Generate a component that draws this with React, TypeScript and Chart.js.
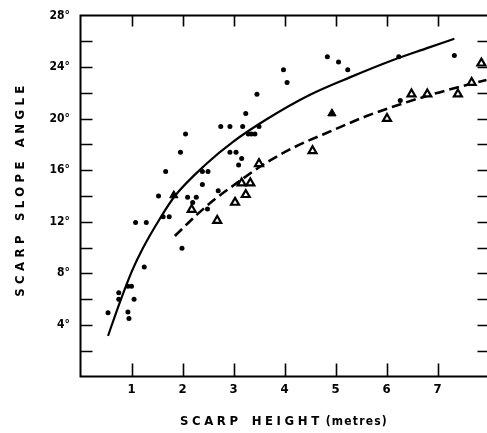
import React, { useEffect, useRef } from "react";
import { Chart, registerables } from "chart.js";

Chart.register(...registerables);

// Scarp data
const dotX = [0.54, 0.75, 0.75, 0.93, 1.0, 0.93, 0.95, 1.05, 1.08, 1.25, 1.29, 1.53, 1.62, 1.74, 1.67, 1.96, 2.06, 1.99, 2.1, 2.27, 2.2, 2.39, 2.39, 2.5, 2.49, 2.7, 2.75, 2.93, 2.93, 3.05, 3.1, 3.16, 3.18, 3.24, 3.29, 3.35, 3.42, 3.46, 3.5, 3.98, 4.05, 4.84, 5.06, 5.24, 6.24, 6.27, 7.33];
const dotY = [4.95, 6.5, 6.0, 7.0, 7.0, 5.0, 4.5, 6.0, 11.95, 8.5, 11.95, 14.0, 12.4, 12.4, 15.9, 17.4, 18.8, 9.95, 13.9, 13.9, 13.5, 14.9, 15.9, 15.9, 13.0, 14.4, 19.4, 19.4, 17.4, 17.4, 16.4, 16.9, 19.4, 20.4, 18.8, 18.8, 18.8, 21.9, 19.4, 23.8, 22.8, 24.8, 24.4, 23.8, 24.8, 21.4, 24.9];

const openTriX = [2.18, 2.68, 3.03, 3.24, 3.16, 3.33, 3.5, 4.55, 6.01, 6.49, 6.8, 7.4, 7.67, 7.86];
const openTriY = [12.95, 12.1, 13.5, 14.1, 15.0, 15.0, 16.5, 17.5, 20.0, 21.9, 21.9, 21.9, 22.8, 24.3];

const filledTriX = [1.83, 4.93];
const filledTriY = [14.05, 20.4];

const solidCurveX = [0.54, 0.757, 1.0, 1.23, 1.55, 1.85, 2.47, 2.99, 3.65, 4.5, 5.28, 6.13, 6.78, 7.33];
const solidCurveY = [3.15, 5.6, 8.1, 10.0, 12.2, 14.0, 16.5, 18.2, 19.95, 21.85, 23.2, 24.55, 25.45, 26.2];

const dashedCurveX = [1.85, 2.31, 2.65, 2.99, 3.65, 4.2, 4.95, 5.61, 6.26, 6.91, 7.18, 7.96];
const dashedCurveY = [10.9, 12.65, 13.8, 14.8, 16.6, 17.8, 19.1, 20.2, 21.1, 21.9, 22.2, 23.0];

const xTickValues = [1, 2, 3, 4, 5, 6, 7];
const yLabelValues = [4, 8, 12, 16, 20, 24, 28];
const yMarkValues = [2, 4, 6, 8, 10, 12, 14, 16, 18, 20, 22, 24, 26];

const xTitleWords = ["SCARP", "HEIGHT"];
const xTitleUnit = "(metres)";
const yTitleWords = ["SCARP", "SLOPE", "ANGLE"];

const FONT_FAMILY = "'Liberation Sans Narrow', 'DejaVu Sans Condensed', 'Liberation Sans', sans-serif";

const zip = (xs: number[], ys: number[]) => xs.map((x, i) => ({ x, y: ys[i] }));

function measureWords(ctx: CanvasRenderingContext2D, words: string[], spacing: number) {
  (ctx as any).letterSpacing = spacing + "px";
  return words.map((w) => ctx.measureText(w).width);
}

const framePlugin = {
  id: "frame",
  afterDraw(chart: any) {
    const { ctx, chartArea: a, scales } = chart;
    const xs = scales.x;
    const ys = scales.y;
    ctx.save();
    ctx.strokeStyle = "#000";
    ctx.lineWidth = 2;
    ctx.strokeRect(a.left, a.top, a.right - a.left, a.bottom - a.top);
    ctx.lineWidth = 1.6;
    ctx.beginPath();
    for (const v of xTickValues) {
      const px = Math.round(xs.getPixelForValue(v)) + 0.5;
      ctx.moveTo(px, a.top);
      ctx.lineTo(px, a.top + 11);
      ctx.moveTo(px, a.bottom);
      ctx.lineTo(px, a.bottom - 13);
    }
    for (const v of yMarkValues) {
      const py = Math.round(ys.getPixelForValue(v)) + 0.5;
      ctx.moveTo(a.left, py);
      ctx.lineTo(a.left + 12, py);
      ctx.moveTo(a.right, py);
      ctx.lineTo(a.right - 11, py);
    }
    ctx.stroke();

    // X axis title
    ctx.fillStyle = "#000";
    ctx.textBaseline = "middle";
    ctx.textAlign = "left";
    ctx.font = "bold 13px " + FONT_FAMILY;
    const xSpacing = 3.6;
    const xWordGap = 10;
    const xWidths = measureWords(ctx, xTitleWords, xSpacing);
    ctx.font = "bold 12px " + FONT_FAMILY;
    (ctx as any).letterSpacing = "1.2px";
    const unitW = ctx.measureText(xTitleUnit).width;
    const total = xWidths.reduce((s: number, w: number) => s + w, 0) + xWordGap * (xTitleWords.length - 1) + 3 + unitW;
    let cx = 284 - total / 2;
    const ty = 421.5;
    ctx.font = "bold 13px " + FONT_FAMILY;
    (ctx as any).letterSpacing = xSpacing + "px";
    xTitleWords.forEach((w, i) => {
      ctx.fillText(w, cx, ty);
      cx += xWidths[i] + xWordGap;
    });
    cx -= xWordGap - 3;
    ctx.font = "bold 12px " + FONT_FAMILY;
    (ctx as any).letterSpacing = "1.2px";
    ctx.fillText(xTitleUnit, cx, ty);

    // Y axis title (rotated)
    ctx.font = "bold 13px " + FONT_FAMILY;
    const ySpacing = 4.4;
    const yWordGap = 10;
    const yWidths = measureWords(ctx, yTitleWords, ySpacing);
    const yTotal = yWidths.reduce((s: number, w: number) => s + w, 0) + yWordGap * (yTitleWords.length - 1);
    ctx.save();
    ctx.translate(21, 189);
    ctx.rotate(-Math.PI / 2);
    (ctx as any).letterSpacing = ySpacing + "px";
    let yx = -yTotal / 2;
    yTitleWords.forEach((w, i) => {
      ctx.fillText(w, yx, 0);
      yx += yWidths[i] + yWordGap;
    });
    ctx.restore();
    (ctx as any).letterSpacing = "0px";
    ctx.restore();
  },
};

export default function App() {
  const canvasRef = useRef<HTMLCanvasElement | null>(null);

  useEffect(() => {
    if (!canvasRef.current) return;
    const tickFont = { family: FONT_FAMILY, size: 13, weight: "bold" as const };
    const chart = new Chart(canvasRef.current, {
      type: "scatter",
      data: {
        datasets: [
          {
            label: "dots",
            data: zip(dotX, dotY),
            pointStyle: "circle",
            pointRadius: 2.5,
            pointBackgroundColor: "#000",
            pointBorderWidth: 0,
            borderColor: "#000",
          },
          {
            label: "open triangles",
            data: zip(openTriX, openTriY),
            pointStyle: "triangle",
            pointRadius: 4.6,
            pointBackgroundColor: "#fff",
            pointBorderColor: "#000",
            pointBorderWidth: 2.2,
          },
          {
            label: "filled triangles",
            data: zip(filledTriX, filledTriY),
            pointStyle: "triangle",
            pointRadius: 4.8,
            pointBackgroundColor: "#000",
            pointBorderColor: "#000",
            pointBorderWidth: 1,
          },
          {
            label: "solid fit",
            data: zip(solidCurveX, solidCurveY),
            showLine: true,
            pointRadius: 0,
            borderColor: "#000",
            borderWidth: 2.2,
            cubicInterpolationMode: "monotone",
            fill: false,
          } as any,
          {
            label: "dashed fit",
            data: zip(dashedCurveX, dashedCurveY),
            showLine: true,
            pointRadius: 0,
            borderColor: "#000",
            borderWidth: 2.6,
            borderDash: [10, 5],
            cubicInterpolationMode: "monotone",
            fill: false,
          } as any,
        ],
      },
      options: {
        animation: false,
        responsive: false,
        devicePixelRatio: 1,
        layout: { autoPadding: false, padding: { left: 0, top: 15.5, right: 1.5, bottom: 0 } },
        plugins: {
          legend: { display: false },
          tooltip: { enabled: false },
        },
        scales: {
          x: {
            type: "linear",
            min: 0,
            max: 8,
            border: { display: false },
            grid: { display: false, drawTicks: false },
            afterBuildTicks: (s: any) => {
              s.ticks = xTickValues.map((v) => ({ value: v }));
            },
            afterFit: (s: any) => {
              s.height = 56.5;
              s.paddingLeft = 0;
              s.paddingRight = 0;
            },
            ticks: {
              color: "#000",
              font: tickFont,
              padding: 5,
              maxRotation: 0,
              autoSkip: false,
              callback: (v: any) => String(v),
            },
          },
          y: {
            type: "linear",
            min: 0,
            max: 28,
            border: { display: false },
            grid: { display: false, drawTicks: false },
            afterBuildTicks: (s: any) => {
              s.ticks = yLabelValues.map((v) => ({ value: v }));
            },
            afterFit: (s: any) => {
              s.width = 80.5;
              s.paddingTop = 0;
              s.paddingBottom = 0;
            },
            ticks: {
              color: "#000",
              font: { family: FONT_FAMILY, size: 12, weight: "bold" as const },
              padding: 10.5,
              autoSkip: false,
              callback: (v: any) => v + "°",
            },
          },
        },
      },
      plugins: [framePlugin],
    });
    return () => chart.destroy();
  }, []);

  return (
    <div
      style={{
        position: "fixed",
        left: 0,
        top: 0,
        width: 487,
        height: 433,
        overflow: "hidden",
        background: "#fff",
      }}
    >
      <canvas ref={canvasRef} width={490} height={433} style={{ display: "block", width: 490, height: 433 }} />
    </div>
  );
}
